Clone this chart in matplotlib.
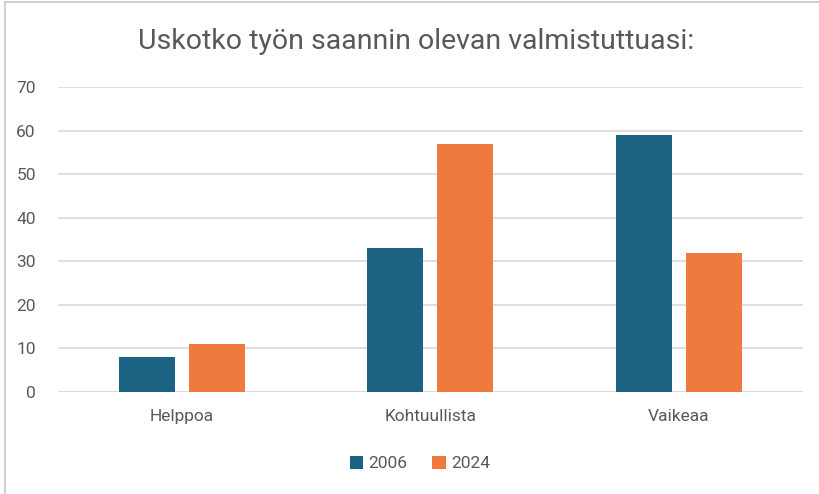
import numpy as np
import matplotlib
import matplotlib.pyplot as plt
from matplotlib.lines import Line2D

matplotlib.use('agg')

categories = ['Helppoa', 'Kohtuullista', 'Vaikeaa']
series_names = ['2006', '2024']
values_2006 = [8, 33, 59]
values_2024 = [11, 57, 32]
y_ticks = [0, 10, 20, 30, 40, 50, 60, 70]

colors = ['#1C6283', '#EE7A3D']
text_color = '#595959'
grid_color = '#D9D9D9'

plt.rcParams['font.family'] = ['Roboto', 'DejaVu Sans']

fig = plt.figure(figsize=(8.2, 4.94), dpi=100)
ax = fig.add_axes([0.0707, 0.2065, 0.9083, 0.6175])

x = np.arange(len(categories))
width = 0.226
ax.bar(x - 0.141, values_2006, width, color=colors[0], label=series_names[0], zorder=3)
ax.bar(x + 0.141, values_2024, width, color=colors[1], label=series_names[1], zorder=3)

ax.set_xlim(-0.5, len(categories) - 0.5)
ax.set_ylim(0, 70)
ax.set_yticks(y_ticks)
ax.set_xticks(x, categories)
ax.yaxis.grid(True, color=grid_color, linewidth=1.2, zorder=0)
for s in ax.spines.values():
    s.set_visible(False)
ax.axhline(0, color=grid_color, linewidth=1.2, zorder=2)
ax.tick_params(axis='both', length=0, labelsize=12.5, labelcolor=text_color)
ax.tick_params(axis='y', pad=16)
ax.tick_params(axis='x', pad=12)

fig.text(0.507, 0.915, 'Uskotko työn saannin olevan valmistuttuasi:', ha='center', va='center',
         fontsize=20.5, color=text_color)

fig.legend(loc='center', bbox_to_anchor=(0.512, 0.062), ncol=2, frameon=False,
           fontsize=12.5, labelcolor=text_color, handlelength=0.8, handleheight=0.8,
           handletextpad=0.3, columnspacing=1.4)

# thin frame lines at top and left like the source image
fig.add_artist(Line2D([0.006, 0.006], [0, 0.995], transform=fig.transFigure, color='#D0D0D0', linewidth=1.5))
fig.add_artist(Line2D([0.006, 1], [0.995, 0.995], transform=fig.transFigure, color='#D0D0D0', linewidth=1.5))

fig.savefig('out.png', dpi=100)
